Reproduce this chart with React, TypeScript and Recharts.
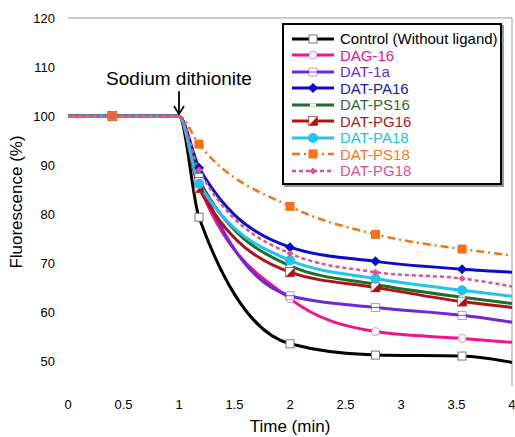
import { LineChart, Line, XAxis, YAxis, ReferenceLine, ReferenceDot, Label } from 'recharts';

const TIME = [0, 0.4, 1, 1.18, 2, 2.77, 3.55, 4];
const CONTROL = [100, 100, 100, 79.4, 53.6, 51.3, 51.1, 49.8];
const DAG16 = [100, 100, 100, 86, 62.8, 56.1, 54.7, 53.9];
const DAT1A = [100, 100, 100, 87.5, 63.4, 61, 59.4, 58];
const DAT_PA16 = [100, 100, 100, 89.5, 73.3, 70.4, 68.8, 68.2];
const DAT_PS16 = [100, 100, 100, 87, 69.5, 65.7, 63.1, 61.8];
const DAT_PG16 = [100, 100, 100, 85.3, 68.2, 65.1, 62.2, 61];
const DAT_PA18 = [100, 100, 100, 86.2, 70.6, 66.9, 64.5, 63.3];
const DAT_PS18 = [100, 100, 100, 94.3, 81.6, 75.9, 72.9, 71.6];
const DAT_PG18 = [100, 100, 100, 89, 72, 68.2, 66.9, 65.3];

const X_TICKS = [0, 0.5, 1, 1.5, 2, 2.5, 3, 3.5, 4];
const Y_TICKS = [50, 60, 70, 80, 90, 100, 110, 120];

const FONT = '"Liberation Sans", Arial, sans-serif';

type Marker = 'openSquare' | 'openCircle' | 'plusSquare' | 'diamond' | 'dash' | 'halfSquare' | 'circle' | 'square' | 'smallDiamond';

interface SeriesDef {
  key: string;
  name: string;
  values: number[];
  color: string;
  textColor: string;
  marker: Marker;
  dash?: string;
  width: number;
}

const SERIES: SeriesDef[] = [
  { key: 'control', name: 'Control (Without ligand)', values: CONTROL, color: '#000000', textColor: '#000000', marker: 'openSquare', width: 3 },
  { key: 'dag16', name: 'DAG-16', values: DAG16, color: '#f0148c', textColor: '#e8168a', marker: 'openCircle', width: 3 },
  { key: 'dat1a', name: 'DAT-1a', values: DAT1A, color: '#6e28d8', textColor: '#6e28d8', marker: 'plusSquare', width: 3 },
  { key: 'pa16', name: 'DAT-PA16', values: DAT_PA16, color: '#0a0ad0', textColor: '#1a1ab8', marker: 'diamond', width: 3 },
  { key: 'ps16', name: 'DAT-PS16', values: DAT_PS16, color: '#1c6e2c', textColor: '#2a6a34', marker: 'dash', width: 3 },
  { key: 'pg16', name: 'DAT-PG16', values: DAT_PG16, color: '#b01212', textColor: '#a82020', marker: 'halfSquare', width: 3 },
  { key: 'pa18', name: 'DAT-PA18', values: DAT_PA18, color: '#22c4ee', textColor: '#22c0ea', marker: 'circle', width: 3 },
  { key: 'ps18', name: 'DAT-PS18', values: DAT_PS18, color: '#f57314', textColor: '#f57a22', marker: 'square', dash: '8 4 2 4', width: 2.5 },
  { key: 'pg18', name: 'DAT-PG18', values: DAT_PG18, color: '#e0508c', textColor: '#e0508c', marker: 'smallDiamond', dash: '4 3', width: 2.5 },
];

const data = TIME.map((t, i) => {
  const row: Record<string, number> = { t };
  for (const s of SERIES) row[s.key] = s.values[i];
  return row;
});

// markers only appear on the measured points, not at 0, 1 or 4
const MARKED = new Set([1, 3, 4, 5, 6]);

function drawMarker(kind: Marker, color: string, cx: number, cy: number) {
  switch (kind) {
    case 'openSquare':
      return <rect x={cx - 4} y={cy - 4} width={8} height={8} fill="#fff" stroke="#777" strokeWidth={1} />;
    case 'openCircle':
      return <circle cx={cx} cy={cy} r={4} fill="#fff" stroke={color} strokeWidth={0.8} strokeOpacity={0.6} />;
    case 'plusSquare':
      return (
        <g>
          <rect x={cx - 4} y={cy - 4} width={8} height={8} fill="#fff" stroke={color} strokeWidth={0.8} strokeOpacity={0.6} />
          <line x1={cx - 4} y1={cy} x2={cx + 4} y2={cy} stroke={color} strokeWidth={0.8} />
        </g>
      );
    case 'diamond':
      return <path d={`M${cx},${cy - 5}L${cx + 5},${cy}L${cx},${cy + 5}L${cx - 5},${cy}Z`} fill={color} />;
    case 'dash':
      return <rect x={cx - 3} y={cy - 1.5} width={6} height={3} fill="#fff" />;
    case 'halfSquare':
      return (
        <g>
          <rect x={cx - 4.5} y={cy - 4.5} width={9} height={9} fill="#fff" stroke={color} strokeWidth={0.6} />
          <path d={`M${cx + 4.5},${cy - 4.5}L${cx + 4.5},${cy + 4.5}L${cx - 4.5},${cy + 4.5}Z`} fill={color} />
        </g>
      );
    case 'circle':
      return <circle cx={cx} cy={cy} r={5} fill={color} />;
    case 'square':
      return <rect x={cx - 4.5} y={cy - 4.5} width={9} height={9} fill={color} />;
    case 'smallDiamond':
      return <path d={`M${cx},${cy - 3.5}L${cx + 3.5},${cy}L${cx},${cy + 3.5}L${cx - 3.5},${cy}Z`} fill={color} />;
  }
}

function makeDot(s: SeriesDef) {
  return (props: any) => {
    const { cx, cy, index } = props;
    if (!MARKED.has(index) || cx == null || cy == null) return <g key={`${s.key}-${index}`} />;
    return <g key={`${s.key}-${index}`}>{drawMarker(s.marker, s.color, cx, cy)}</g>;
  };
}

function Annotation(props: any) {
  const { cx, cy } = props;
  return (
    <g>
      <text x={cx} y={cy - 31} textAnchor="middle" fontFamily={FONT} fontSize={19} fill="#000">
        Sodium dithionite
      </text>
      <line x1={cx} y1={cy - 25} x2={cx} y2={cy - 3} stroke="#000" strokeWidth={1.8} />
      <path d={`M${cx - 5},${cy - 10}L${cx},${cy - 2}L${cx + 5},${cy - 10}`} fill="none" stroke="#000" strokeWidth={1.8} />
    </g>
  );
}

function LegendBox() {
  return (
    <div
      style={{
        position: 'absolute',
        left: 282,
        top: 23,
        width: 216,
        height: 158,
        border: '2px solid #000',
        background: '#fff',
        boxShadow: '2px 2px 0 #999',
        fontFamily: FONT,
        fontSize: 15,
      }}
    >
      {SERIES.map((s, i) => (
        <div key={s.key} style={{ position: 'absolute', left: 6, top: 5 + i * 16.5, height: 17, display: 'flex', alignItems: 'center' }}>
          <svg width={46} height={14}>
            <line x1={2} y1={7} x2={44} y2={7} stroke={s.color} strokeWidth={s.width} strokeDasharray={s.dash} />
            {drawMarker(s.marker, s.color, 23, 7)}
          </svg>
          <span style={{ color: s.textColor, marginLeft: 4, whiteSpace: 'nowrap' }}>{s.name}</span>
        </div>
      ))}
    </div>
  );
}

export default function App() {
  return (
    <div style={{ position: 'absolute', left: 0, top: 0, width: 515, height: 437, background: '#fff' }}>
      <LineChart width={515} height={437} data={data} margin={{ top: 18, right: 3, left: 0, bottom: 0 }}>
        <XAxis
          dataKey="t"
          type="number"
          domain={[0, 4]}
          ticks={X_TICKS}
          axisLine={false}
          tickLine={false}
          tickSize={0}
          tickMargin={14}
          height={51}
          tick={{ fontSize: 13, fill: '#000', fontFamily: FONT }}
        >
          <Label value="Time (min)" position="insideBottom" offset={5} style={{ fontSize: 17, fill: '#000', fontFamily: FONT }} />
        </XAxis>
        <YAxis
          type="number"
          domain={[45, 120]}
          ticks={Y_TICKS}
          axisLine={false}
          tickLine={false}
          tickSize={0}
          tickMargin={13}
          width={68}
          tick={{ fontSize: 13, fill: '#000', fontFamily: FONT }}
        >
          <Label value="Fluorescence (%)" angle={-90} position="insideLeft" offset={16} style={{ fontSize: 17, fill: '#000', fontFamily: FONT, textAnchor: 'middle' }} />
        </YAxis>
        <ReferenceLine y={120} stroke="#999" strokeWidth={1} />
        <ReferenceLine x={4} stroke="#999" strokeWidth={1} />
        {SERIES.map((s) => (
          <Line
            key={s.key}
            type="monotone"
            dataKey={s.key}
            name={s.name}
            stroke={s.color}
            strokeWidth={s.width}
            strokeDasharray={s.dash}
            dot={makeDot(s)}
            activeDot={false}
            isAnimationActive={false}
          />
        ))}
        <ReferenceDot x={1} y={100} r={0} shape={Annotation} ifOverflow="visible" />
      </LineChart>
      <LegendBox />
    </div>
  );
}
